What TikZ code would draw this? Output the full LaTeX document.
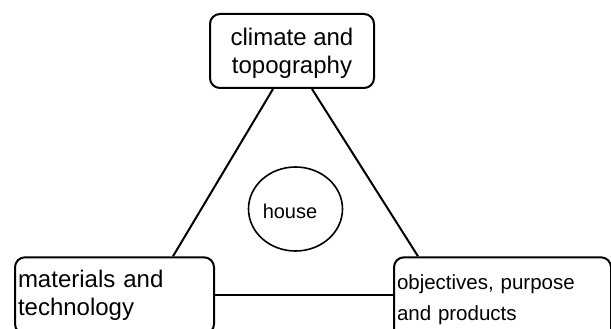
\documentclass[tikz,border=0pt]{standalone}
\usepackage{fontspec}
\setmainfont{Liberation Sans}
\usetikzlibrary{calc,shapes.geometric}
\tikzset{
  box/.style={draw, line width=2pt, rounded corners=10pt},
  link/.style={draw, line width=2pt},
}
\begin{document}
\begin{tikzpicture}[x=1pt,y=-1pt]
\clip (0,0) rectangle (611,329);
\fill[white] (0,0) rectangle (611,329);
\node[box, minimum width=164pt, minimum height=74pt, inner sep=0pt, align=center,
      font=\fontsize{24}{28}\selectfont] (top) at (292,51)
  {\rule{0pt}{22pt}climate and\\topography};
\node[box, anchor=north west, inner xsep=3pt, inner ysep=13.2pt, text width=193pt, align=left,
      font=\fontsize{24}{28}\selectfont] (ml) at (14,256.3)
  {materials and\\technology};
\node[box, anchor=north west, inner xsep=3pt, inner ysep=17pt, text width=211pt, align=left,
      font=\fontsize{20.5}{31.5}\selectfont] (or) at (393,256.3)
  {objectives, purpose\\and products};
\node[draw, ellipse, line width=1.6pt, minimum width=94pt, minimum height=84pt, inner sep=0pt,
      text height=18.6pt, text depth=0pt, font=\fontsize{20}{24}\selectfont] (house) at (295.5,209)
  {house\hspace*{11pt}};
\draw[link] ($(top.south)+(-19,0)$) -- ($(ml.north west)+(159,0)$);
\draw[link] ($(top.south)+(20,0)$) -- ($(or.north west)+(25,0)$);
\draw[link] ($(ml.north east)+(0,39)$) -- ($(or.north west)+(0,39)$);
\end{tikzpicture}
\end{document}
